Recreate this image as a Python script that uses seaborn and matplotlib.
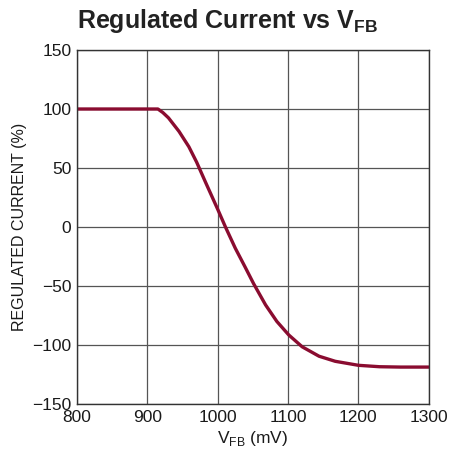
import matplotlib
matplotlib.use("Agg")
import matplotlib.pyplot as plt
import seaborn as sns
import pandas as pd
from matplotlib import font_manager

vfb_mv = [800, 900, 915, 922, 930, 945, 959, 970, 983, 1000, 1011, 1025, 1039, 1051,
          1068, 1084, 1101, 1120, 1144, 1167, 1200, 1230, 1260, 1300]
current_pct = [100, 100, 100, 97, 92.5, 81, 68, 55, 37.5, 15, 0, -18, -34, -48,
               -66, -80, -91.5, -101.5, -109.5, -113.8, -117.2, -118.4, -118.7, -118.7]
x_ticks = [800, 900, 1000, 1100, 1200, 1300]
y_ticks = [-150, -100, -50, 0, 50, 100, 150]
y_tick_labels = ["\u2212150", "\u2212100", "\u221250", "0", "50", "100", "150"]

names = {f.name for f in font_manager.fontManager.ttflist}
fam = "Liberation Sans Narrow" if "Liberation Sans Narrow" in names else "Liberation Sans"

sns.set_style("white")
plt.rcParams["font.family"] = [fam, "DejaVu Sans"]
plt.rcParams["mathtext.fontset"] = "custom"
plt.rcParams["mathtext.rm"] = fam
plt.rcParams["mathtext.bf"] = fam + ":bold"

df = pd.DataFrame({"vfb": vfb_mv, "cur": current_pct})

fig = plt.figure(figsize=(4.49, 4.63), dpi=100)
ax = fig.add_axes([0.1715, 0.1274, 0.7835, 0.7646])
sns.lineplot(data=df, x="vfb", y="cur", ax=ax, color="#8A0C30", linewidth=2.4)
for l in ax.lines:
    l.set_solid_joinstyle("round")

ax.set_xlim(800, 1300)
ax.set_ylim(-150, 150)
ax.set_xticks(x_ticks)
ax.set_yticks(y_ticks)
ax.set_yticklabels(y_tick_labels)
ax.tick_params(length=0, labelsize=12.5, colors="#1a1a1a", pad=4)
ax.grid(True, color="#555555", linewidth=0.9)
for s in ax.spines.values():
    s.set_color("#333333")
    s.set_linewidth(1.0)
ax.set_xlabel(r"V$_{\mathrm{FB}}$ (mV)", fontsize=12.5, color="#1a1a1a", labelpad=3)
ax.set_ylabel("REGULATED CURRENT (%)", fontsize=11.5, color="#1a1a1a", labelpad=4)
fig.text(0.1715, 0.9395, r"Regulated Current vs V$_{\mathbf{FB}}$", fontsize=18, fontweight="bold",
         color="#222222", ha="left", va="baseline")
fig.savefig("out.png", dpi=100)
